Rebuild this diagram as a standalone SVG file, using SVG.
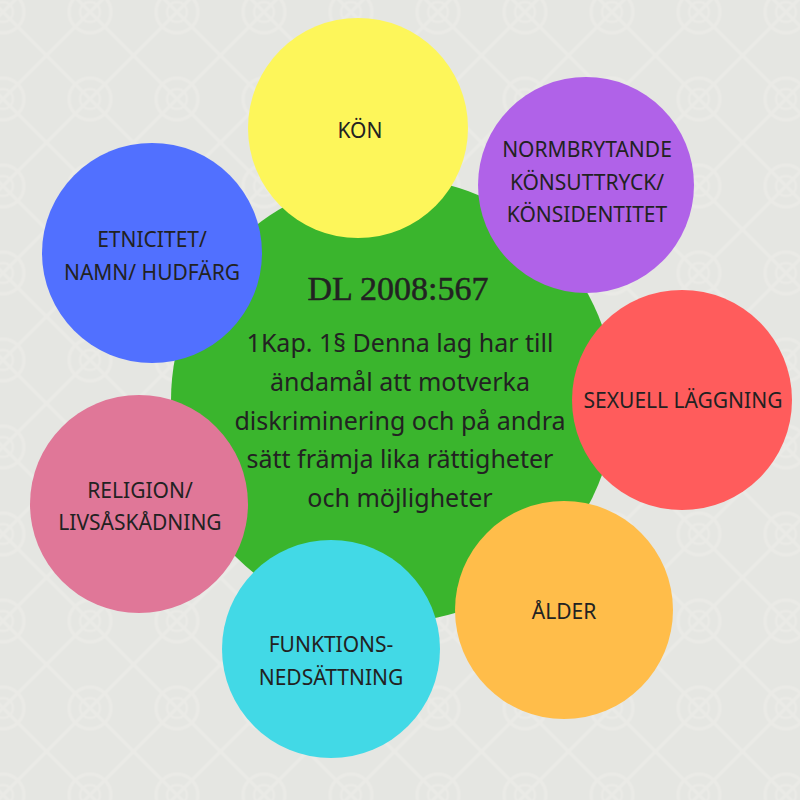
<svg xmlns="http://www.w3.org/2000/svg" width="800" height="800" viewBox="0 0 800 800">
<defs>
<pattern id="bg" patternUnits="userSpaceOnUse" x="46.5" y="-31.5" width="87" height="87">
<rect width="87" height="87" fill="#e5e6e2"/>
<g fill="none" stroke="#eaeae6">
<line x1="0" y1="0" x2="87" y2="87" stroke-width="3.5"/>
<line x1="87" y1="0" x2="0" y2="87" stroke-width="3.5"/>
<circle cx="43.5" cy="43.5" r="21" stroke-width="3.5"/>
<circle cx="43.5" cy="43.5" r="10" stroke-width="2.5"/>
</g>
</pattern>
<style>
.lbl{font-family:"Noto Sans","Open Sans",sans-serif;font-size:21px;fill:#222;text-anchor:middle}
.body{font-family:"Noto Sans","Open Sans",sans-serif;font-size:25px;fill:#222;text-anchor:middle}
.title{font-family:"Liberation Serif","DejaVu Serif",serif;font-size:34px;fill:#222;stroke:#222;stroke-width:0.5;text-anchor:middle}
</style>
</defs>
<rect width="800" height="800" fill="url(#bg)"/>
<g id="connectors"/>
<g id="center">
<circle cx="393" cy="400" r="222" fill="#3ab52d"/>
<text class="title" x="398" y="300">DL 2008:567</text>
<text class="body" x="400" y="352">1Kap. 1§ Denna lag har till</text>
<text class="body" x="400" y="391">ändamål att motverka</text>
<text class="body" x="400" y="430">diskriminering och på andra</text>
<text class="body" x="400" y="468">sätt främja lika rättigheter</text>
<text class="body" x="400" y="507">och möjligheter</text>
</g>
<g id="kon">
<circle cx="358" cy="128" r="110" fill="#fdf65a"/>
<text class="lbl" x="360" y="138">KÖN</text>
</g>
<g id="normbrytande">
<circle cx="586" cy="185" r="108" fill="#b062e8"/>
<text class="lbl" x="587" y="157">NORMBRYTANDE</text>
<text class="lbl" x="587" y="190">KÖNSUTTRYCK/</text>
<text class="lbl" x="587" y="222">KÖNSIDENTITET</text>
</g>
<g id="etnicitet">
<circle cx="152" cy="253" r="110" fill="#5170ff"/>
<text class="lbl" x="152" y="247">ETNICITET/</text>
<text class="lbl" x="152" y="280">NAMN/ HUDFÄRG</text>
</g>
<g id="sexuell">
<circle cx="682" cy="400" r="110" fill="#ff5c5c"/>
<text class="lbl" x="683" y="408">SEXUELL LÄGGNING</text>
</g>
<g id="religion">
<circle cx="139" cy="504" r="109" fill="#e07798"/>
<text class="lbl" x="140" y="498">RELIGION/</text>
<text class="lbl" x="140" y="530">LIVSÅSKÅDNING</text>
</g>
<g id="alder">
<circle cx="564" cy="610" r="109" fill="#ffbd4a"/>
<text class="lbl" x="564" y="619">ÅLDER</text>
</g>
<g id="funktion">
<circle cx="331" cy="649" r="109" fill="#42d9e6"/>
<text class="lbl" x="331" y="652">FUNKTIONS-</text>
<text class="lbl" x="331" y="685">NEDSÄTTNING</text>
</g>
</svg>
